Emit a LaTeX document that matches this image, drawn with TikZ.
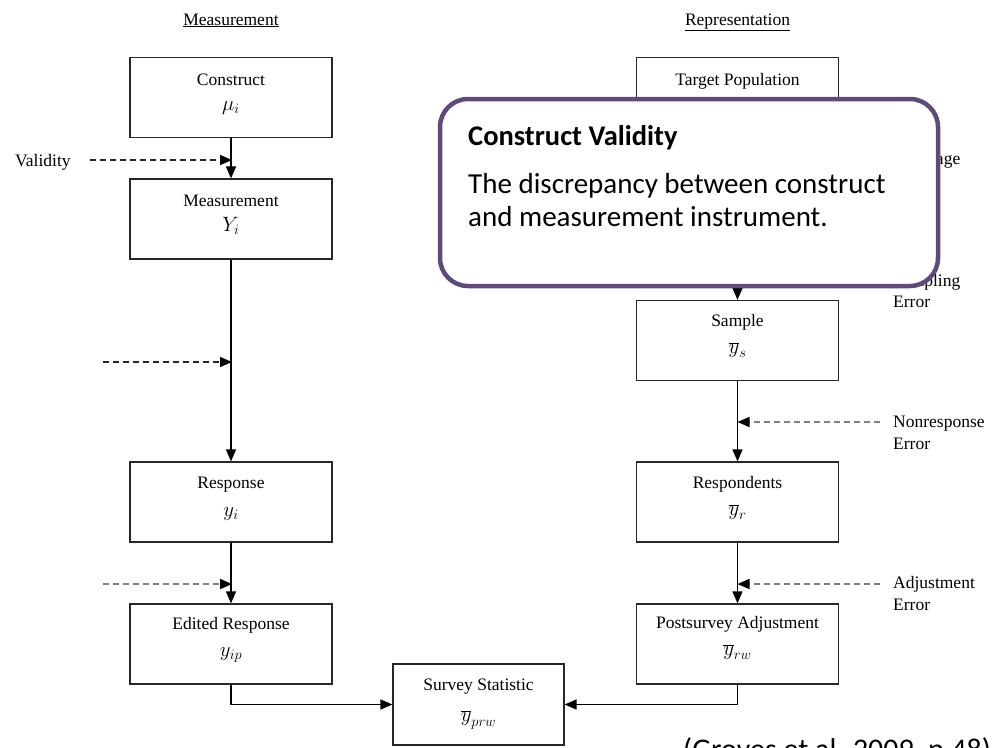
\documentclass[tikz,border=0pt]{standalone}
\usepackage{fontspec}
\setmainfont{Liberation Serif}
\newfontfamily\calfont{Carlito}
\usetikzlibrary{arrows.meta}
\definecolor{cvpurple}{RGB}{96,74,123}
\definecolor{boxline}{RGB}{40,40,40}
\definecolor{dashgray}{RGB}{128,128,128}
\begin{document}
\begin{tikzpicture}[x=1pt,y=-1pt,
  box/.style={draw=boxline, line width=1.2pt, minimum width=202pt, minimum height=80pt, inner sep=0pt},
  lbl/.style={font=\fontsize{17.5}{21}\selectfont, inner sep=0pt, anchor=base},
  errlbl/.style={font=\fontsize{17.5}{21}\selectfont, inner sep=0pt, anchor=base west},
  sym/.style={font=\fontsize{20}{24}\selectfont, inner sep=0pt},
  conn/.style={draw=black, line width=1.4pt, -{Triangle[length=12pt,width=10pt]}},
  dashblack/.style={draw=black!85, line width=1.3pt, dash pattern=on 6pt off 4pt, -{Triangle[length=12pt,width=10pt,color=black]}},
  dashgrey/.style={draw=dashgray, line width=1.6pt, dash pattern=on 6pt off 4pt, -{Triangle[length=12pt,width=10pt,color=black]}},
]
\useasboundingbox (0,0) rectangle (993,747);
\clip (0,0) rectangle (993,747);
\fill[white] (0,0) rectangle (993,747);

% headings
\node[lbl] (hmeas) at (231,25) {\underline{Measurement}};
\node[lbl] (hrep) at (737.5,25) {\underline{Representation}};

% left column
\node[box] (construct) at (231,97.5) {};
\node[lbl] (constructL) at (231,85) {Construct};
\node[sym] (constructS) at (231,108) {$\mu_i$};

\node[box] (measurement) at (231,219) {};
\node[lbl] (measurementL) at (231,206) {Measurement};
\node[sym] (measurementS) at (231,226) {$Y_i$};

\node[box] (response) at (231,502) {};
\node[lbl] (responseL) at (231,488) {Response};
\node[sym] (responseS) at (231,514) {$y_i$};

\node[box] (edited) at (231,644) {};
\node[lbl] (editedL) at (231,629) {Edited Response};
\node[sym] (editedS) at (231,655) {$y_{ip}$};

% right column
\node[box] (target) at (737.5,97.5) {};
\node[lbl] (targetL) at (737.5,85) {Target Population};
\node[sym] (targetS) at (737.5,106) {$\overline{Y}$};

\node[box] (frame) at (737.5,219) {};

\node[box] (sample) at (737.5,340.5) {};
\node[lbl] (sampleL) at (737.5,326) {Sample};
\node[sym] (sampleS) at (737.5,350) {$\overline{y}_s$};

\node[box] (respondents) at (737.5,502) {};
\node[lbl] (respondentsL) at (737.5,488) {Respondents};
\node[sym] (respondentsS) at (737.5,512) {$\overline{y}_r$};

\node[box] (post) at (737.5,644) {};
\node[lbl] (postL) at (737.5,628.5) {Postsurvey Adjustment};
\node[sym] (postS) at (737.5,652) {$\overline{y}_{rw}$};

% survey statistic
\node[box, minimum width=171pt, minimum height=81pt] (survey) at (478.5,704.5) {};
\node[lbl] (surveyL) at (478.5,690) {Survey Statistic};
\node[sym] (surveyS) at (478.5,720) {$\overline{y}_{prw}$};

% solid connectors
\draw[conn] (construct.south) -- (measurement.north);
\draw[conn] (measurement.south) -- (response.north);
\draw[conn] (response.south) -- (edited.north);
\draw[conn] (edited.south) |- (survey.west);
\draw[conn] (target.south) -- (frame.north);
\draw[conn] (frame.south) -- (sample.north);
\draw[conn] (sample.south) -- (respondents.north);
\draw[conn] (respondents.south) -- (post.north);
\draw[conn] (post.south) |- (survey.east);

% error sources, left
\node[errlbl] (validity) at (15,166) {Validity};
\coordinate (v0) at (90,160);
\coordinate (v1) at (232,160);
\draw[dashblack] (v0) -- (v1);
\coordinate (m0) at (103,362);
\coordinate (m1) at (232,362);
\draw[dashblack] (m0) -- (m1);
\coordinate (p0) at (103,584);
\coordinate (p1) at (232,584);
\draw[dashgrey] (p0) -- (p1);

% error sources, right
\node[errlbl] (covL) at (893,164) {Coverage};
\node[errlbl] (sampL) at (893,286) {Sampling};
\node[errlbl] (sampE) at (893,307) {Error};
\node[errlbl] (nonL) at (893,427.5) {Nonresponse};
\node[errlbl] (nonE) at (893,449) {Error};
\coordinate (n0) at (880,422);
\coordinate (n1) at (737.5,422);
\draw[dashgrey] (n0) -- (n1);
\node[errlbl] (adjL) at (893,588.5) {Adjustment};
\node[errlbl] (adjE) at (893,610.5) {Error};
\coordinate (a0) at (880,584);
\coordinate (a1) at (737.5,584);
\draw[dashgrey] (a0) -- (a1);

% callout
\node[draw=cvpurple, line width=4.5pt, rounded corners=28pt, fill=white,
      minimum width=498pt, minimum height=187pt, inner sep=0pt] (callout) at (689,192.5) {};
\node[font=\calfont\bfseries\fontsize{28.5}{34}\selectfont, anchor=base west, inner sep=0pt] (cvtitle) at (468,145) {Construct Validity};
\node[font=\calfont\fontsize{29}{35}\selectfont, anchor=base west, inner sep=0pt] (cvline1) at (468,193.3) {The discrepancy between construct};
\node[font=\calfont\fontsize{29}{35}\selectfont, anchor=base west, inner sep=0pt] (cvline2) at (468,226.7) {and measurement instrument.};

% citation
\node[font=\calfont\fontsize{30}{36}\selectfont, anchor=base west, inner sep=0pt] (cite) at (683,759.5) {(Groves et al. 2009, p.48)};
\end{tikzpicture}
\end{document}
